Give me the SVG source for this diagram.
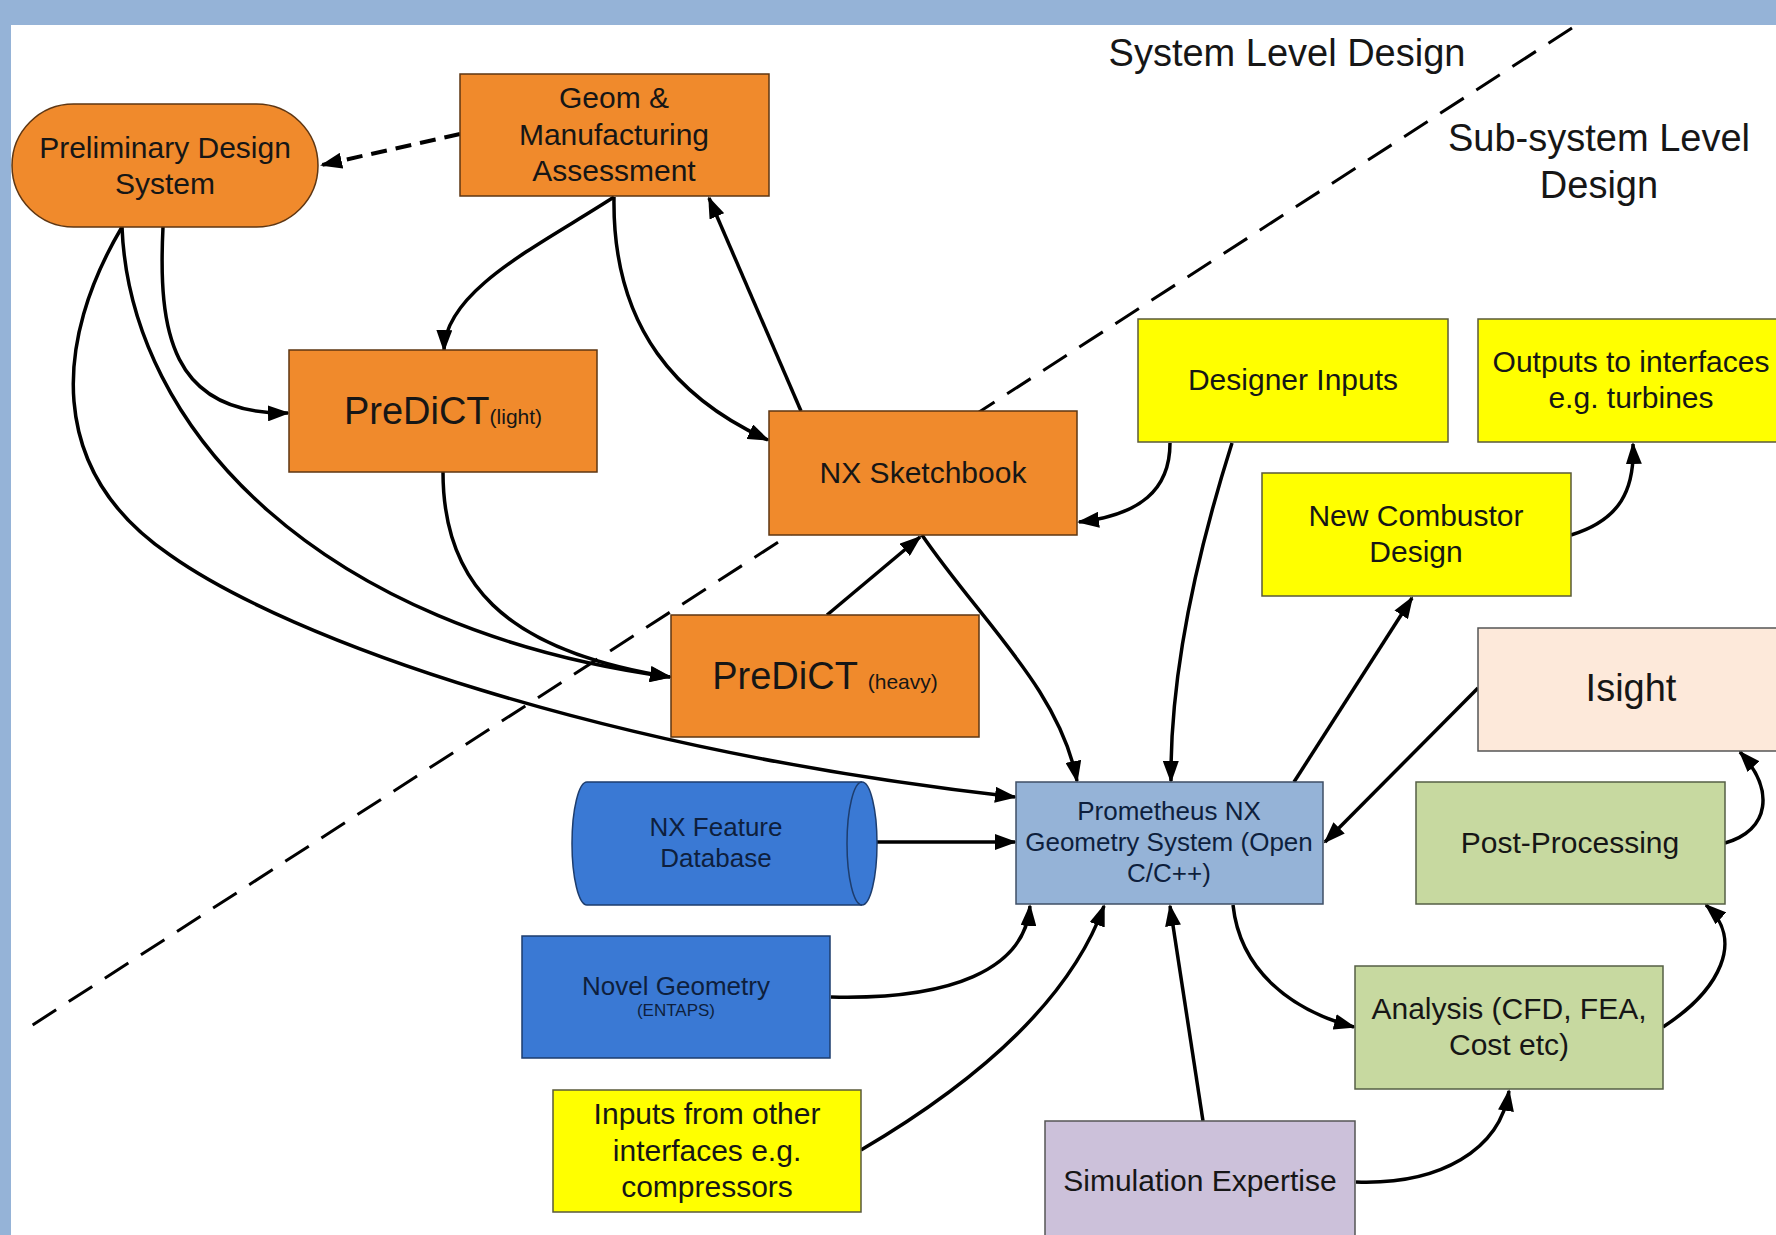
<svg xmlns="http://www.w3.org/2000/svg" width="1776" height="1235" viewBox="0 0 1776 1235">
<style>
  .t { font-family: "Liberation Sans", Arial, sans-serif; fill: #161616; text-anchor: middle; }
  .f30 { font-size: 30px; }
  .f26 { font-size: 26px; }
  .f38 { font-size: 38px; }
  .orange { fill: #f08a2c; stroke: #5e3612; stroke-width: 1.5; }
  .yellow { fill: #ffff00; stroke: #5a5a3a; stroke-width: 1.5; }
  .bluegrey { fill: #95b3d7; stroke: #3f4f66; stroke-width: 1.5; }
  .green { fill: #c7d9a0; stroke: #555f45; stroke-width: 1.5; }
  .peach { fill: #fde9da; stroke: #555; stroke-width: 1.5; }
  .lav { fill: #ccc1da; stroke: #555; stroke-width: 1.5; }
  .blue { fill: #3a79d4; stroke: #1d3d6e; stroke-width: 1.5; }
  .navy { fill: #0e1f3d; }
  .c { fill: none; stroke: #000; stroke-width: 3.5; marker-end: url(#arr); }
</style>
<defs>
  <marker id="arr" viewBox="0 0 22 16" refX="20" refY="8" markerWidth="22" markerHeight="16" markerUnits="userSpaceOnUse" orient="auto">
    <path d="M0,0 L22,8 L0,16 z" fill="#000"/>
  </marker>
</defs>
<rect x="0" y="0" width="1776" height="1235" fill="#ffffff"/>
<rect x="0" y="0" width="1776" height="25" fill="#95b3d7"/>
<rect x="0" y="0" width="11" height="1235" fill="#95b3d7"/>

<g id="divider">
  <line x1="1572" y1="28" x2="28" y2="1028" stroke="#000" stroke-width="3" stroke-dasharray="28 15"/>
  <text class="t f38" x="1287" y="66">System Level Design</text>
  <text class="t f38" x="1599" y="151">Sub-system Level</text>
  <text class="t f38" x="1599" y="198">Design</text>
</g>

<g id="connectors">
  <path d="M460,134 L322,165" fill="none" stroke="#000" stroke-width="4" stroke-dasharray="16 9" marker-end="url(#arr)"/>
  <path class="c" d="M614,197 C540,245 445,290 444,350"/>
  <path class="c" d="M614,197 C612,330 680,400 768,440"/>
  <path class="c" d="M801,411 L709,198"/>
  <path class="c" d="M163,227 C158,330 170,415 288,413"/>
  <path class="c" d="M122,227 C130,430 320,630 670,677"/>
  <path class="c" d="M443,472 C443,580 500,650 670,677"/>
  <path class="c" d="M122,227 C55,340 45,470 170,555 C290,640 600,750 1015,797"/>
  <path class="c" d="M922,535 C980,620 1060,690 1077,781"/>
  <path class="c" d="M827,615 L920,537"/>
  <path class="c" d="M1170,443 C1170,490 1140,515 1079,522"/>
  <path class="c" d="M1232,443 C1195,560 1170,680 1171,781"/>
  <path class="c" d="M1294,782 L1412,598"/>
  <path class="c" d="M1571,535 C1620,520 1635,490 1633,444"/>
  <path class="c" d="M1478,688 L1325,842"/>
  <path class="c" d="M1725,843 C1770,830 1775,790 1740,752"/>
  <path class="c" d="M1663,1027 C1720,990 1745,940 1706,905"/>
  <path class="c" d="M1233,905 C1240,970 1290,1010 1354,1027"/>
  <path class="c" d="M877,842 L1015,842"/>
  <path class="c" d="M831,997 C950,1000 1025,970 1030,906"/>
  <path class="c" d="M861,1150 C980,1080 1070,1000 1104,906"/>
  <path class="c" d="M1203,1121 L1170,906"/>
  <path class="c" d="M1356,1182 C1440,1185 1500,1150 1509,1091"/>
</g>

<g id="preliminary">
  <rect class="orange" x="12" y="104" width="306" height="123" rx="61.5" ry="61.5"/>
  <text class="t f30" x="165" y="158">Preliminary Design</text>
  <text class="t f30" x="165" y="194">System</text>
</g>
<g id="geom">
  <rect class="orange" x="460" y="74" width="309" height="122"/>
  <text class="t f30" x="614" y="108">Geom &amp;</text>
  <text class="t f30" x="614" y="145">Manufacturing</text>
  <text class="t f30" x="614" y="181">Assessment</text>
</g>
<g id="predict-light">
  <rect class="orange" x="289" y="350" width="308" height="122"/>
  <text class="t f38" x="443" y="424">PreDiCT<tspan font-size="21">(light)</tspan></text>
</g>
<g id="nx-sketchbook">
  <rect class="orange" x="769" y="411" width="308" height="124"/>
  <text class="t f30" x="923" y="483">NX Sketchbook</text>
</g>
<g id="predict-heavy">
  <rect class="orange" x="671" y="615" width="308" height="122"/>
  <text class="t f38" x="825" y="689">PreDiCT <tspan font-size="21">(heavy)</tspan></text>
</g>
<g id="designer-inputs">
  <rect class="yellow" x="1138" y="319" width="310" height="123"/>
  <text class="t f30" x="1293" y="390">Designer Inputs</text>
</g>
<g id="outputs">
  <rect class="yellow" x="1478" y="319" width="310" height="123"/>
  <text class="t f30" x="1631" y="372">Outputs to interfaces</text>
  <text class="t f30" x="1631" y="408">e.g. turbines</text>
</g>
<g id="new-combustor">
  <rect class="yellow" x="1262" y="473" width="309" height="123"/>
  <text class="t f30" x="1416" y="526">New Combustor</text>
  <text class="t f30" x="1416" y="562">Design</text>
</g>
<g id="isight">
  <rect class="peach" x="1478" y="628" width="310" height="123"/>
  <text class="t f38" x="1631" y="701">Isight</text>
</g>
<g id="prometheus">
  <rect class="bluegrey" x="1016" y="782" width="307" height="122"/>
  <text class="t f26 navy" x="1169" y="820">Prometheus NX</text>
  <text class="t f26 navy" x="1169" y="851">Geometry System (Open</text>
  <text class="t f26 navy" x="1169" y="882">C/C++)</text>
</g>
<g id="post-processing">
  <rect class="green" x="1416" y="782" width="309" height="122"/>
  <text class="t f30" x="1570" y="853">Post-Processing</text>
</g>
<g id="nx-feature-db">
  <path class="blue" d="M587,782 L862,782 A15,61.5 0 0 1 862,905 L587,905 A15,61.5 0 0 1 587,782 Z"/>
  <path d="M862,782 A15,61.5 0 0 0 862,905" fill="none" stroke="#1d3d6e" stroke-width="1.5"/>
  <text class="t f26 navy" x="716" y="836">NX Feature</text>
  <text class="t f26 navy" x="716" y="867">Database</text>
</g>
<g id="novel-geometry">
  <rect class="blue" x="522" y="936" width="308" height="122"/>
  <text class="t f26 navy" x="676" y="995">Novel Geometry</text>
  <text class="t navy" font-size="17" x="676" y="1016">(ENTAPS)</text>
</g>
<g id="analysis">
  <rect class="green" x="1355" y="966" width="308" height="123"/>
  <text class="t f30" x="1509" y="1019">Analysis (CFD, FEA,</text>
  <text class="t f30" x="1509" y="1055">Cost etc)</text>
</g>
<g id="inputs-other">
  <rect class="yellow" x="553" y="1090" width="308" height="122"/>
  <text class="t f30" x="707" y="1124">Inputs from other</text>
  <text class="t f30" x="707" y="1161">interfaces e.g.</text>
  <text class="t f30" x="707" y="1197">compressors</text>
</g>
<g id="simulation">
  <rect class="lav" x="1045" y="1121" width="310" height="125"/>
  <text class="t f30" x="1200" y="1191">Simulation Expertise</text>
</g>
</svg>
